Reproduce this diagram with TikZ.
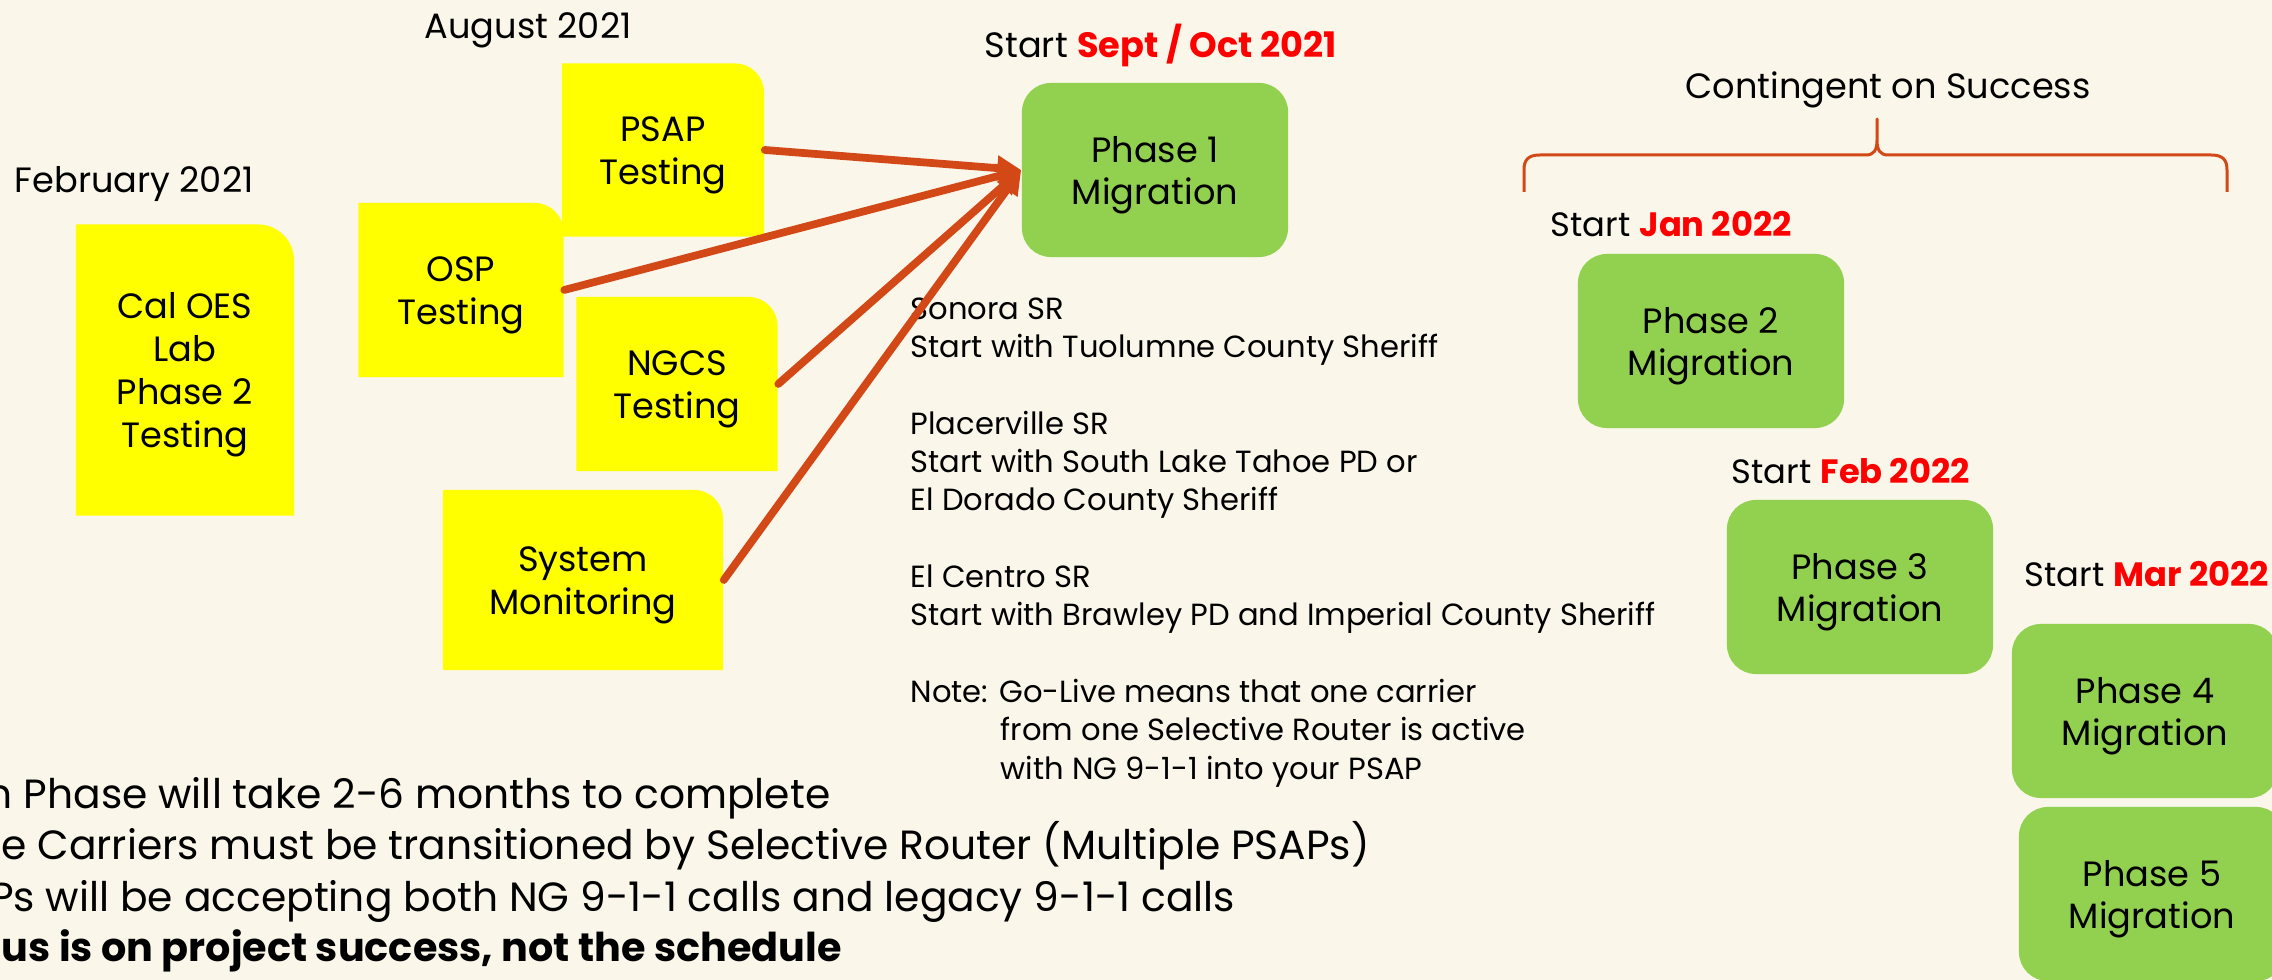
\documentclass[tikz,border=0pt]{standalone}
\usepackage{fontspec}
\setmainfont{Poppins}
\usetikzlibrary{positioning,arrows.meta,backgrounds}
\definecolor{paper}{RGB}{250,246,233}
\definecolor{sticky}{RGB}{255,255,0}
\definecolor{leaf}{RGB}{146,208,80}
\definecolor{rust}{RGB}{210,72,22}
\definecolor{hot}{RGB}{255,0,0}
\def \redyear #1{{\bfseries\color{hot}#1}}
\def \boxtop {\rule{0pt}{10.2pt}}

\begin{document}
\begin{tikzpicture}[x=0.01cm, y=-0.01cm, line join=round,
notebox/.style={fill=paper, inner sep=0pt, align=center, font=\fontsize{10}{12.2}\selectfont,
  path picture={\fill[sticky, x=1cm, y=1cm] (path picture bounding box.south west) |- ([xshift=-#1]path picture bounding box.north east) arc[start angle=90, end angle=0, radius=#1] -- (path picture bounding box.south east) -- cycle;}},
notebox/.default=0.29cm,
phasebox/.style={fill=leaf, rounded corners=0.29cm, inner sep=0pt, align=center, minimum width=2.66cm, minimum height=1.74cm, font=\fontsize{10}{12}\selectfont},
datelabel/.style={anchor=base west, inner sep=0pt, font=\fontsize{10}{12}\selectfont},
bullet/.style={anchor=base west, inner sep=0pt, font=\fontsize{11.6}{13}\selectfont},
feedline/.style={-{Triangle[length=0.24cm, width=0.24cm]}, draw=rust, line width=2.2pt, line cap=round}
]
\useasboundingbox (0,0) rectangle (2272,980);

% testing boxes
\node (cal) [notebox=0.36cm, minimum width=2.18cm, minimum height=2.91cm] at (185,370) {\boxtop Cal OES\\Lab\\Phase 2\\Testing};
\node (osp) [notebox, minimum width=2.05cm, minimum height=1.74cm] at (461,290) {\boxtop OSP\\Testing};
\node (psap) [notebox, minimum width=2.02cm, minimum height=1.73cm] at (663,150) {\boxtop PSAP\\Testing};
\node (ngcs) [notebox, minimum width=2.01cm, minimum height=1.74cm] at (677,384) {\boxtop NGCS\\Testing};
\node (mon) [notebox, minimum width=2.8cm, minimum height=1.8cm] at (583,580) {\boxtop System\\Monitoring};

% migration phases
\node (ph1) [phasebox] at (1155,170) {\boxtop Phase 1\\Migration};
\node (ph2) [phasebox] at (1711,341) {\boxtop Phase 2\\Migration};
\node (ph3) [phasebox] at (1860,587) {\boxtop Phase 3\\Migration};
\node (ph4) [phasebox] at (2145,711) {\boxtop Phase 4\\Migration};
\node (ph5) [phasebox] at (2152,894) {\boxtop Phase 5\\Migration};

\node (feb) [datelabel] at (14,193) {February 2021};
\node (aug) [datelabel] at (424,39) {August 2021};
\node (sep) [datelabel] at (984,58) {Start \redyear{Sept / Oct 2021}};
\node (jan) [datelabel, font=\fontsize{9.6}{12}\selectfont] at (1550,237) {Start \redyear{Jan 2022}};
\node (febtwo) [datelabel, font=\fontsize{9.6}{12}\selectfont] at (1731,484) {Start \redyear{Feb 2022}};
\node (mar) [datelabel, font=\fontsize{9.6}{12}\selectfont] at (2024,587) {Start \redyear{Mar 2022}};
\node (cont) [datelabel, anchor=base] at (1888,99) {Contingent on Success};

\node (routes) [anchor=north west, inner sep=0pt, align=left, font=\fontsize{8.7}{10.9}\selectfont] at (910,297) {Sonora SR\\Start with Tuolumne County Sheriff\\[10.9pt]
Placerville SR\\Start with South Lake Tahoe PD or\\El Dorado County Sheriff\\[10.9pt]
El Centro SR\\Start with Brawley PD and Imperial County Sheriff\\[10.9pt]
Note: Go-Live means that one carrier\\\hspace*{0.9cm}from one Selective Router is active\\\hspace*{0.9cm}with NG 9-1-1 into your PSAP};

\node (b1) [bullet] at (23,809) {\llap{h }Phase will take 2-6 months to complete};
\node (b2) [bullet] at (37,860) {\llap{e }Carriers must be transitioned by Selective Router (Multiple PSAPs)};
\node (b3) [bullet] at (13,912) {\llap{P}s will be accepting both NG 9-1-1 calls and legacy 9-1-1 calls};
\node (b4) [bullet, font=\fontsize{11.3}{13}\selectfont\bfseries] at (1,962) {us is on project success, not the schedule};

\draw[feedline] (psap.east) -- (ph1.west);
\draw[feedline] (osp.east) -- (ph1.west);
\draw[feedline] (ngcs.east) -- (ph1.west);
\draw[feedline] (mon.east) -- (ph1.west);

% brace over phases 2-5
\draw[rust, line width=0.85pt] (1524,192) -- (1524,170) .. controls (1524,160) and (1528,155) .. (1540,155) -- (1866,155) .. controls (1874,155) and (1877,150) .. (1877,140) -- (1877,119) -- (1877,140) .. controls (1877,150) and (1880,155) .. (1888,155) -- (2211,155) .. controls (2223,155) and (2227,160) .. (2227,170) -- (2227,192);

\begin{pgfonlayer}{background}
  \fill[paper] (0,0) rectangle (2272,980);
\end{pgfonlayer}
\end{tikzpicture}
\end{document}
